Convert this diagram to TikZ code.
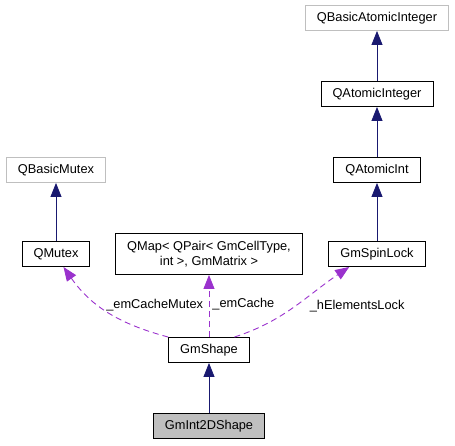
\documentclass[tikz,border=0pt]{standalone}
\usepackage{fontspec}
\setmainfont{Liberation Sans}
\usetikzlibrary{positioning,arrows.meta}
\definecolor{edgeblue}{HTML}{191970}
\definecolor{edgepurple}{HTML}{9A32CD}
\definecolor{boxgray}{HTML}{BFBFBF}

\begin{document}
\begin{tikzpicture}[on grid, font=\fontsize{12.8}{15.3}\selectfont]
  \tikzstyle{classnode}=[rectangle,draw=black,line width=0.9pt,inner xsep=11.5pt,inner ysep=0pt,minimum height=25pt]
  \tikzstyle{extnode}=[classnode,draw=boxgray]
  \tikzstyle{inherit}=[-{Triangle[length=14pt,width=11pt]},color=edgeblue,line width=0.9pt]
  \tikzstyle{usage}=[-{Triangle[length=14pt,width=11pt]},color=edgepurple,line width=0.9pt,dash pattern=on 6pt off 4pt]
  \tikzstyle{lbl}=[inner sep=0pt,text=black]

  \useasboundingbox (0,0) rectangle (455pt,-445pt);

  \node[classnode, fill=boxgray] (int2d) at (209pt,-426pt) {GmInt2DShape};
  \node[classnode, above=76pt of int2d] (shape) {GmShape};

  \node[classnode, above=96pt of shape, align=center, minimum height=41pt] (qmap) {QMap< QPair< GmCellType,\\int >, GmMatrix >};
  \node[classnode, left=153pt of qmap] (qmutex) {QMutex};
  \node[classnode, right=168pt of qmap] (spinlock) {GmSpinLock};

  \node[extnode, above=84pt of qmutex] (qbmutex) {QBasicMutex};
  \node[classnode, above=84pt of spinlock] (qaint) {QAtomicInt};
  \node[classnode, above=76pt of qaint] (qainteger) {QAtomicInteger};
  \node[extnode, above=76pt of qainteger] (qbainteger) {QBasicAtomicInteger};

  % base classes
  \draw[inherit] (int2d) -- (shape);
  \draw[inherit] (qmutex) -- (qbmutex);
  \draw[inherit] (spinlock) -- (qaint);
  \draw[inherit] (qaint) -- (qainteger);
  \draw[inherit] (qainteger) -- (qbainteger);

  % members
  \draw[usage] (shape.north west) to[out=165,in=-55] node[lbl,pos=0.6,anchor=west,xshift=7pt] {\_emCacheMutex} (qmutex.-60);
  \draw[usage] (shape) -- node[lbl,pos=0.5,anchor=west,xshift=3pt,yshift=2pt] {\_emCache} (qmap);
  \draw[usage] (shape.27) to[out=18,in=-146] node[lbl,pos=0.6,anchor=west,xshift=5pt,yshift=-6pt] {\_hElementsLock} (spinlock.-155);

\end{tikzpicture}
\end{document}
